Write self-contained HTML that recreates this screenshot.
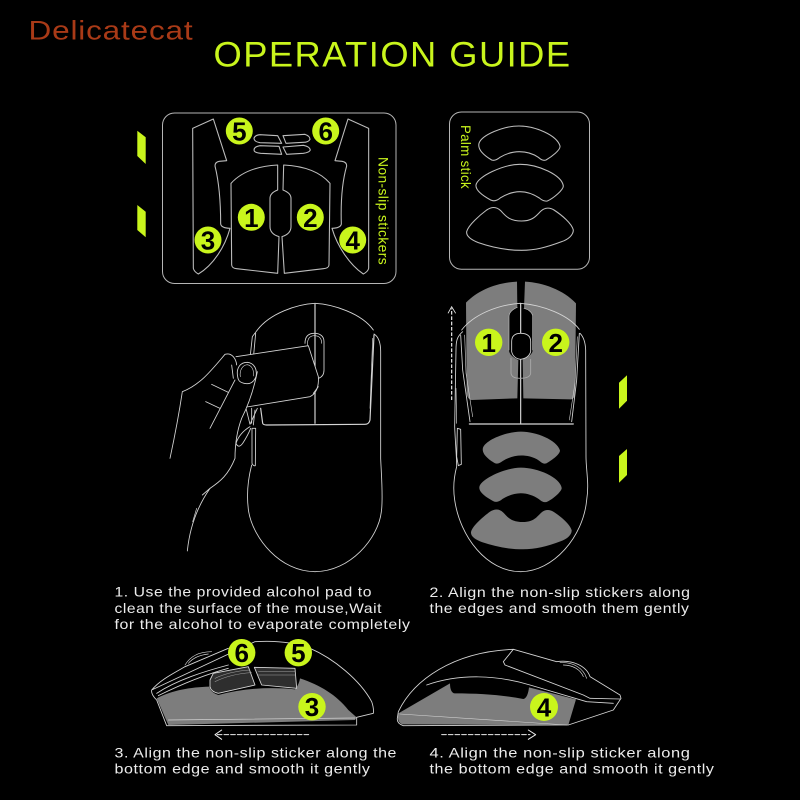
<!DOCTYPE html>
<html><head><meta charset="utf-8"><style>
html,body{margin:0;padding:0;background:#000;width:800px;height:800px;overflow:hidden}
svg{display:block}
text{font-family:"Liberation Sans",sans-serif}
.t{fill:#ececec;font-size:14px;letter-spacing:.5px}
.n{font-weight:bold;font-size:26px;fill:#000;text-anchor:middle}
</style></head><body>
<svg width="800" height="800" viewBox="0 0 800 800" xmlns="http://www.w3.org/2000/svg">
<defs>
<path id="pa" d="M117,130 C125,105 190,78 237,78 C285,78 350,105 360,138 C362,150 335,170 318,180 C308,183 302,178 295,172 C275,158 255,155 238,155 C220,155 200,160 180,172 C172,178 165,183 155,180 C135,168 112,150 117,130Z"/>
<path id="pb" d="M108,255 C112,230 190,193 240,193 C295,193 365,225 370,258 C370,270 340,295 322,303 C312,305 305,300 298,294 C280,282 260,275 240,275 C220,275 200,282 182,293 C172,302 162,305 152,300 C130,288 106,272 108,255Z"/>
<path id="pc" d="M80,395 C85,375 120,345 140,330 C155,320 170,320 182,332 C195,345 205,363 245,363 C280,363 290,345 303,333 C315,322 330,322 342,330 C365,345 395,370 400,390 C400,405 385,418 365,425 C320,442 285,451 245,451 C200,451 155,442 115,428 C95,420 78,410 80,395Z"/>
</defs>
<rect width="800" height="800" fill="#000"/>
<text x="28.5" y="39.3" font-size="27" letter-spacing=".7" fill="#a93a17" textLength="165" lengthAdjust="spacingAndGlyphs">Delicatecat</text>
<text x="213.5" y="66.7" font-size="35" letter-spacing="1.4" fill="#c9f51c" textLength="358" lengthAdjust="spacingAndGlyphs">OPERATION GUIDE</text>

<g fill="#c9f51c">
<polygon points="137.3,130.7 145.7,137.3 145.7,164 137.3,156"/>
<polygon points="137.3,205 145.7,211.7 145.7,237.3 137.3,230"/>
<polygon points="619,382.7 627,375.3 627,400.7 619,408.7"/>
<polygon points="619,456 627,449 627,475 619,482.7"/>
</g>

<!-- Non-slip panel -->
<rect x="162.5" y="113" width="233.5" height="170.5" rx="12" fill="none" stroke="#b5b5b5" stroke-width="1"/>
<g transform="translate(130,100) scale(.33333)" fill="none" stroke="#bdbdbd" stroke-width="3.2" stroke-linejoin="round">
<path d="M188,85 L250,57 L290,182 L268,184 Q255,186 255,198 C268,250 272,310 272,372 Q274,384 300,385 C285,440 250,495 205,522 Q192,515 190,505 Z"/>
<path d="M716,85 L654,57 L615,182 L636,184 Q650,186 650,198 C635,250 632,310 634,372 Q632,384 606,385 C622,440 660,495 700,522 Q714,515 716,505 Z"/>
<path d="M443,195 C385,198 335,215 303,250 L305,495 Q306,505 320,506 L443,520 L447,410 C430,405 420,395 420,380 L420,295 C420,282 430,275 443,270 Z"/>
<path d="M461,195 C520,198 570,215 600,250 L597,495 Q596,505 580,506 L463,520 L456,410 C472,405 483,395 483,380 L483,295 C483,282 472,275 459,270 Z"/>
<path d="M372,115 Q375,105 390,104 L443,107 L455,130 L390,128 Q372,125 372,115Z"/>
<path d="M372,150 Q372,140 390,137 L447,139 L455,163 L392,160 Q372,158 372,150Z"/>
<path d="M459,107 L525,103 Q540,108 540,118 Q535,127 520,127 L468,130Z"/>
<path d="M459,141 L520,136 Q540,140 541,150 Q538,158 520,160 L470,163Z"/>
</g>
<g fill="#c9f51c">
<circle cx="239.3" cy="131" r="13.5"/><circle cx="325.7" cy="131" r="13.5"/>
<circle cx="251.3" cy="217.3" r="13.5"/><circle cx="310.3" cy="217.3" r="13.5"/>
<circle cx="208" cy="240" r="13.5"/><circle cx="352.7" cy="240" r="13.5"/>
</g>
<text class="n" x="239.3" y="140.5">5</text><text class="n" x="325.7" y="140.5">6</text>
<text class="n" x="251.3" y="226.8">1</text><text class="n" x="310.3" y="226.8">2</text>
<text class="n" x="208" y="249.5">3</text><text class="n" x="352.7" y="249.5">4</text>
<text transform="translate(378.5,157) rotate(90)" font-size="14" letter-spacing=".4" fill="#c9f51c" textLength="108" lengthAdjust="spacingAndGlyphs">Non-slip stickers</text>

<!-- Palm panel -->
<rect x="449.5" y="112" width="140" height="157.3" rx="12" fill="none" stroke="#b5b5b5" stroke-width="1"/>
<g transform="translate(440,100) scale(.33333)" fill="none" stroke="#bdbdbd" stroke-width="3.2">
<use href="#pa"/><use href="#pb"/><use href="#pc"/>
</g>
<text transform="translate(461,125) rotate(90)" font-size="14" letter-spacing=".4" fill="#c9f51c" textLength="64" lengthAdjust="spacingAndGlyphs">Palm stick</text>

<!-- Step 1 mouse and hand -->
<g transform="translate(170,295) scale(.33333)" fill="none" stroke="#d5d5d5" stroke-width="2.6" stroke-linejoin="round" stroke-linecap="round">
<path d="M262,105 C300,55 380,28 435,25 C490,28 575,55 610,105"/>
<path d="M262,105 L247,125 L240,190"/>
<path d="M257,115 L250,190"/>
<path d="M245,510 C232,560 230,610 236,650 C250,730 330,830 435,830 C540,830 625,730 634,650 C640,610 634,540 632,490 L632,170 C632,140 625,125 612,117"/>
<path d="M435,28 L435,385" stroke-width="3.5"/>
<path d="M405,145 C405,125 415,115 433,115 C452,115 462,125 462,140 L462,225 Q462,245 445,250"/>
<path d="M412,150 C412,130 420,122 433,122 C448,122 455,130 455,145" stroke-width="2"/>
<path d="M272,340 L278,385 Q280,390 290,390 L585,388 Q597,388 600,375 L612,120" stroke-width="3.5"/>
<path d="M600,340 L608,130" stroke-width="2"/>
<path d="M246,400 L246,505 Q250,514 256,512 L257,400 Z"/>
<path d="M228,340 L240,388 L262,340 M245,340 L245,385 M255,345 L250,390"/>
<path d="M198,185 L415,152 L445,245 C447,275 440,295 420,305 L230,336 L190,300 Z" fill="#000" stroke="none"/>
<path d="M198,185 L415,152 L445,245 C447,275 440,295 420,305 L230,336"/>
<path d="M430,295 L445,275"/>
<path d="M0,490 C15,420 28,350 37,290 C90,270 125,225 165,178 C185,172 198,190 200,210 L262,230 C250,290 235,330 215,370 C200,410 195,450 195,490 C175,540 150,560 120,580 L97,600 L120,580 C85,630 60,690 52,768" stroke="none" fill="#000"/>
<path d="M0,490 C15,420 28,350 37,290 C90,270 125,225 165,178 C185,172 198,190 200,210"/>
<path d="M203,245 C198,220 210,202 232,202 C255,205 262,225 258,245 C250,265 235,268 222,265 C210,262 205,258 203,245Z"/>
<path d="M211,245 C208,225 218,210 232,209 C248,212 252,228 250,243" stroke-width="1.8"/>
<path d="M262,230 C250,290 235,330 215,370 C200,410 195,450 195,490 C175,540 150,560 120,580 L97,600"/>
<path d="M120,580 C85,630 60,690 52,768"/>
<path d="M125,268 L175,292 M107,320 L150,340 M120,400 L195,255 M185,210 L190,250"/>
<path d="M240,395 C215,410 203,430 198,445 Q205,462 218,445 C228,430 236,415 242,400"/>
<path d="M80,640 L68,680" stroke-width="2"/>
</g>

<!-- Step 2 mouse -->
<g transform="translate(440,270) scale(.33333)">
<g fill="#7d7d7d" stroke="none">
<path d="M231,35 C170,38 115,60 78,98 L80,370 Q82,388 95,390 L232,385 L235,270 C218,262 207,252 207,240 L207,140 C207,128 218,118 232,112Z"/>
<path d="M255,35 C310,38 370,60 408,100 L405,375 Q402,388 392,388 L250,385 L248,268 C265,262 278,252 278,240 L278,140 C278,128 265,118 252,115Z"/>
<use href="#pa" transform="translate(17.75,412.5) scale(.95,.93)"/>
<use href="#pb" transform="translate(16.2,412) scale(.943,.9375)"/>
<use href="#pc" transform="translate(17.5,418.5) scale(.944,.93)"/>
</g>
<g fill="none" stroke="#d5d5d5" stroke-width="2.6" stroke-linejoin="round" stroke-linecap="round">
<path d="M65,180 C100,135 170,105 240,100 C310,105 385,135 418,178"/>
<path d="M68,185 C50,200 48,215 48,240 L44,470 C46,520 50,560 50,590 C42,620 38,650 44,690 C60,800 140,905 242,905 C340,905 430,800 440,690 C448,640 438,600 438,560 L437,240 C436,215 430,200 420,190"/>
<path d="M62,195 L68,300 L90,455 M418,190 L410,330 L395,455"/>
<path d="M74,195 L78,310 L98,440 M412,200 L405,340 L388,450" stroke-width="1.8"/>
<path d="M88,462 L400,462" stroke-width="3.5"/>
<path d="M242,100 L242,190 M242,268 L242,460" stroke-width="3.5"/>
<path d="M215,215 C215,198 225,190 242,190 C262,190 272,198 272,215 L272,245 C268,258 258,266 242,268 C228,266 218,258 215,245Z" fill="#000"/>
<path d="M213,265 L213,310 Q215,325 240,325 Q270,325 272,310 L272,268" stroke="#aaa"/>
<path d="M207,140 C207,128 218,118 232,112 M278,140 C278,128 265,118 252,115 M207,140 L207,240 M278,140 L278,240" stroke="#bbb" stroke-width="2"/>
<path d="M52,475 L62,478 L64,583 L55,587 L50,560Z"/>
<path d="M48,355 L50,460" stroke-width="2"/>
</g>
<path d="M35,390 L35,115" stroke="#eee" stroke-width="3.5" stroke-dasharray="11 5" fill="none"/>
<path d="M24,130 L35,110 L47,130" stroke="#eee" stroke-width="2.5" fill="none"/>
</g>
<circle cx="488.7" cy="342.3" r="13.7" fill="#c9f51c"/><circle cx="555.7" cy="342.3" r="13.7" fill="#c9f51c"/>
<text class="n" x="488.7" y="351.8">1</text><text class="n" x="555.7" y="351.8">2</text>

<!-- Step texts -->
<text class="t" x="114.5" y="596.7" textLength="257.5" lengthAdjust="spacingAndGlyphs">1. Use the provided alcohol pad to</text>
<text class="t" x="114.5" y="613" textLength="267.5" lengthAdjust="spacingAndGlyphs">clean the surface of the mouse,Wait</text>
<text class="t" x="114.5" y="628.8" textLength="296" lengthAdjust="spacingAndGlyphs">for the alcohol to evaporate completely</text>
<text class="t" x="429.5" y="597" textLength="261" lengthAdjust="spacingAndGlyphs">2. Align the non-slip stickers along</text>
<text class="t" x="429.5" y="613" textLength="260" lengthAdjust="spacingAndGlyphs">the edges and smooth them gently</text>
<text class="t" x="114.5" y="757.3" textLength="282.5" lengthAdjust="spacingAndGlyphs">3. Align the non-slip sticker along the</text>
<text class="t" x="114.5" y="773.3" textLength="256" lengthAdjust="spacingAndGlyphs">bottom edge and smooth it gently</text>
<text class="t" x="429.5" y="757.3" textLength="261" lengthAdjust="spacingAndGlyphs">4. Align the non-slip sticker along</text>
<text class="t" x="429.5" y="773.3" textLength="285" lengthAdjust="spacingAndGlyphs">the bottom edge and smooth it gently</text>

<!-- Side view left -->
<g transform="translate(140,630) scale(.33333)" stroke-linejoin="round" stroke-linecap="round">
<path d="M50,205 C100,180 150,172 208,170 C210,182 220,190 235,195 C310,175 390,170 465,178 C472,170 478,158 480,145 C540,165 590,195 625,240 L650,262 L645,270 L85,285 Z" fill="#7d7d7d"/>
<g fill="none" stroke="#d5d5d5" stroke-width="2.6">
<path d="M35,180 C60,150 100,130 135,110 L265,55 M345,35 C420,30 470,40 510,55 C580,85 660,150 695,215 Q702,235 700,250 L650,262 L650,285 L80,287 L50,210 C40,200 33,190 35,180Z"/>
<path d="M135,105 C150,80 175,65 215,65 M145,100 C160,82 180,75 205,72" stroke-width="2"/>
<path d="M50,190 C110,150 190,125 265,105 M55,197 C120,165 190,135 265,115"/>
<path d="M210,150 L220,130 L325,110 L345,165 L235,190 C222,187 212,180 210,170Z" fill="#2e2e2e"/>
<path d="M343,112 L465,115 L470,175 L365,165Z" fill="#2e2e2e"/>
<path d="M225,155 C260,138 300,130 335,128 M225,145 C260,128 300,122 330,120 M355,135 L465,135 M355,125 L465,125" stroke-width="1.6" stroke="#a0a0a0"/>
<path d="M85,270 L645,264" stroke-width="2"/>
</g>
<path d="M245,300 L225,314 L245,328" fill="none" stroke="#eee" stroke-width="3"/>
<path d="M232,314 L507,314" fill="none" stroke="#eee" stroke-width="3" stroke-dasharray="14 6"/>
</g>
<circle cx="241.7" cy="652.7" r="13.7" fill="#c9f51c"/><circle cx="298.3" cy="652.7" r="13.7" fill="#c9f51c"/><circle cx="312" cy="706.7" r="13.7" fill="#c9f51c"/>
<text class="n" x="241.7" y="662.2">6</text><text class="n" x="298.3" y="662.2">5</text><text class="n" x="312" y="716.2">3</text>

<!-- Side view right -->
<g transform="translate(390,630) scale(.33333)" stroke-linejoin="round" stroke-linecap="round">
<path d="M25,250 L180,160 C180,178 185,190 195,190 C270,190 340,195 400,207 C410,205 415,190 417,172 L558,208 L535,285 L40,283 Q20,280 25,250Z" fill="#7d7d7d"/>
<g fill="none" stroke="#d5d5d5" stroke-width="2.6">
<path d="M25,245 C70,150 190,65 370,58 L500,95 C550,88 590,110 600,140 L690,195 L693,205 L670,240 L535,285 L40,287 Q20,280 22,265 L25,245Z"/>
<path d="M370,58 L340,95 L345,105 L580,195 L600,205 L690,207"/>
<path d="M510,98 C550,95 580,115 590,145 M520,105 C550,105 572,120 580,140" stroke-width="2"/>
<path d="M110,165 C210,130 320,135 420,165 L590,215 L670,220"/>
<path d="M30,252 L530,285" stroke-width="1.8"/>
</g>
<path d="M155,314 L420,314" fill="none" stroke="#eee" stroke-width="3" stroke-dasharray="14 6"/>
<path d="M415,300 L437,314 L415,328" fill="none" stroke="#eee" stroke-width="3"/>
</g>
<circle cx="544" cy="707" r="14" fill="#c9f51c"/>
<text class="n" x="544" y="716.5">4</text>
</svg>
</body></html>
